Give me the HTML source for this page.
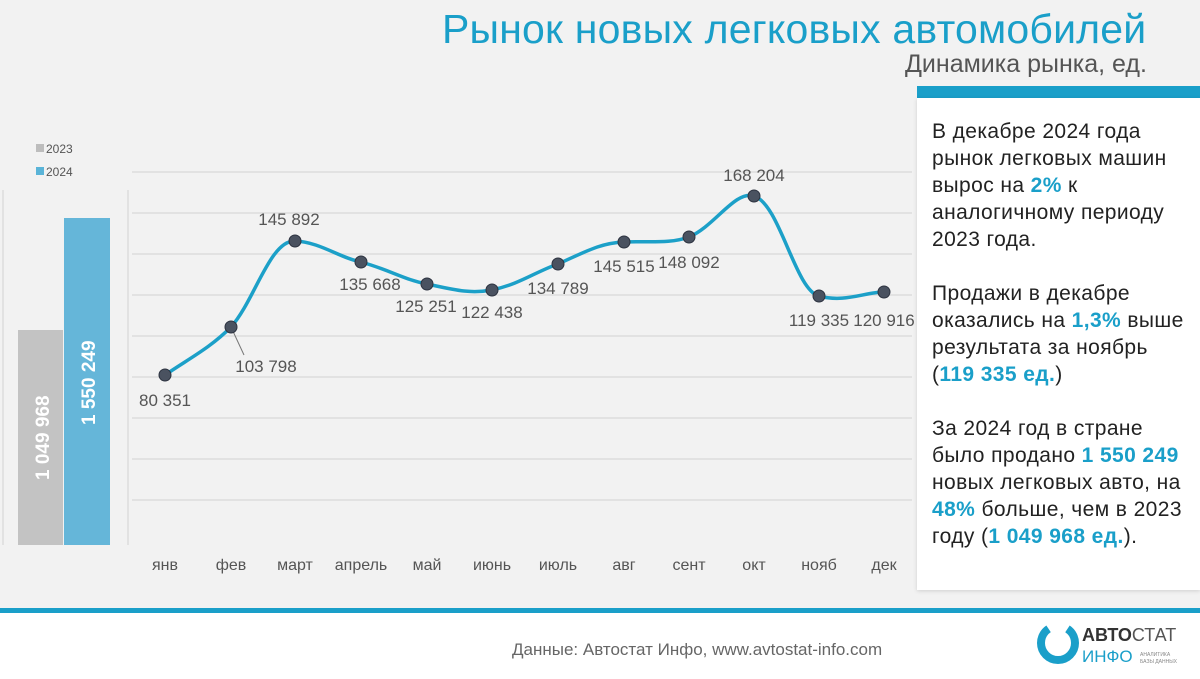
<!DOCTYPE html>
<html><head><meta charset="utf-8"><style>
body{margin:0;width:1200px;height:679px;background:#f2f2f2;position:relative;overflow:hidden;font-family:"Liberation Sans","DejaVu Sans",sans-serif}
.t{position:absolute;white-space:nowrap}
</style></head><body>
<div class="t" style="left:442px;top:6px;font-size:41px;color:#1a9fc9;letter-spacing:0.2px">Рынок новых легковых автомобилей</div>
<div class="t" style="left:905px;top:50px;font-size:25px;color:#555">Динамика рынка, ед.</div>
<svg width="1200" height="679" style="position:absolute;left:0;top:0">
<g stroke="#dcdcdc" stroke-width="1.5">
<line x1="132" y1="172" x2="912" y2="172"/><line x1="132" y1="213" x2="912" y2="213"/><line x1="132" y1="254" x2="912" y2="254"/><line x1="132" y1="295" x2="912" y2="295"/><line x1="132" y1="336" x2="912" y2="336"/><line x1="132" y1="377" x2="912" y2="377"/><line x1="132" y1="418" x2="912" y2="418"/><line x1="132" y1="459" x2="912" y2="459"/><line x1="132" y1="500" x2="912" y2="500"/>
<line x1="3" y1="190" x2="3" y2="545"/><line x1="128" y1="190" x2="128" y2="545"/>
</g>
<rect x="18" y="330" width="45" height="215" fill="#c3c3c3"/>
<rect x="64" y="218" width="46" height="327" fill="#65b6d9"/>
<rect x="36" y="144" width="8" height="8" fill="#bdbdbd"/><rect x="36" y="167" width="8" height="8" fill="#5ab4d8"/>
<text x="46" y="153" font-size="12" fill="#555">2023</text><text x="46" y="176" font-size="12" fill="#555">2024</text>
<text transform="translate(49,480) rotate(-90)" font-size="19" font-weight="bold" fill="#fff">1 049 968</text>
<text transform="translate(95,425) rotate(-90)" font-size="19" font-weight="bold" fill="#fff">1 550 249</text>
<line x1="231" y1="327" x2="244" y2="355" stroke="#777" stroke-width="1"/>
<path d="M165,375 C190,358 210,348 231,327 C255,300 270,240 295,241 C320,242 340,258 361,262 C390,270 405,280 427,284 C455,290 470,294 492,290 C520,284 535,272 558,264 C585,252 600,243 624,242 C650,241 670,244 689,237 C715,226 735,190 754,196 C780,204 795,290 819,296 C845,303 865,292 884,292" fill="none" stroke="#1ca0c8" stroke-width="3.5"/>
<g fill="#4a5260" stroke="#2d3340" stroke-width="1">
<circle cx="165" cy="375" r="6"/><circle cx="231" cy="327" r="6"/><circle cx="295" cy="241" r="6"/><circle cx="361" cy="262" r="6"/><circle cx="427" cy="284" r="6"/><circle cx="492" cy="290" r="6"/><circle cx="558" cy="264" r="6"/><circle cx="624" cy="242" r="6"/><circle cx="689" cy="237" r="6"/><circle cx="754" cy="196" r="6"/><circle cx="819" cy="296" r="6"/><circle cx="884" cy="292" r="6"/>
</g>
<g font-size="17" fill="#555" text-anchor="middle">
<text x="165" y="406">80 351</text><text x="266" y="372">103 798</text><text x="289" y="225">145 892</text><text x="370" y="290">135 668</text><text x="426" y="312">125 251</text><text x="492" y="318">122 438</text><text x="558" y="294">134 789</text><text x="624" y="272">145 515</text><text x="689" y="268">148 092</text><text x="754" y="181">168 204</text><text x="819" y="326">119 335</text><text x="884" y="326">120 916</text>
</g>
<g font-size="16" fill="#555" text-anchor="middle">
<text x="165" y="570">янв</text><text x="231" y="570">фев</text><text x="295" y="570">март</text><text x="361" y="570">апрель</text><text x="427" y="570">май</text><text x="492" y="570">июнь</text><text x="558" y="570">июль</text><text x="624" y="570">авг</text><text x="689" y="570">сент</text><text x="754" y="570">окт</text><text x="819" y="570">нояб</text><text x="884" y="570">дек</text>
</g>
<rect x="0" y="608" width="1200" height="5" fill="#1a9fc9"/>
<rect x="0" y="613" width="1200" height="66" fill="#fff"/>
<text x="512" y="655" font-size="17" fill="#666">Данные: Автостат Инфо, www.avtostat-info.com</text>
<circle cx="1058" cy="643" r="17" fill="none" stroke="#1a9fc9" stroke-width="8" stroke-dasharray="70 20"/>
<text x="1082" y="641" font-size="18" font-weight="bold" fill="#333">АВТО<tspan font-weight="normal" fill="#555">СТАТ</tspan></text>
<text x="1082" y="662" font-size="17" fill="#1a9fc9">ИНФО</text>
<text x="1140" y="656" font-size="5" fill="#888">АНАЛИТИКА</text><text x="1140" y="663" font-size="5" fill="#888">БАЗЫ ДАННЫХ</text>
</svg>
<div style="position:absolute;left:917px;top:86px;width:283px;height:12px;background:#1a9fc9"></div>
<div style="position:absolute;left:917px;top:98px;width:283px;height:492px;background:#fff;box-shadow:0 1px 4px rgba(0,0,0,0.15)"></div>
<div class="t" style="left:932px;top:118px;font-size:21px;line-height:27px;color:#222;letter-spacing:0.4px">В декабре 2024 года<br>рынок легковых машин<br>вырос на <b style="color:#1a9fc9">2%</b> к<br>аналогичному периоду<br>2023 года.<br><br>Продажи в декабре<br>оказались на <b style="color:#1a9fc9">1,3%</b> выше<br>результата за ноябрь<br>(<b style="color:#1a9fc9">119 335 ед.</b>)<br><br>За 2024 год в стране<br>было продано <b style="color:#1a9fc9">1 550 249</b><br>новых легковых авто, на<br><b style="color:#1a9fc9">48%</b> больше, чем в 2023<br>году (<b style="color:#1a9fc9">1 049 968 ед.</b>).</div>
</body></html>
